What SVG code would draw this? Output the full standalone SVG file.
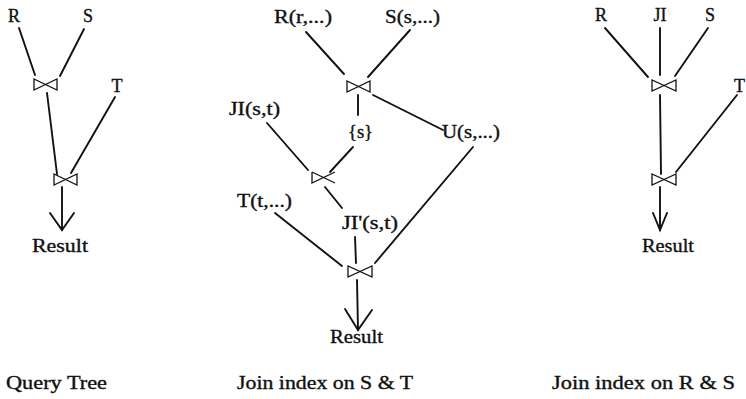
<svg xmlns="http://www.w3.org/2000/svg" width="746" height="399" viewBox="0 0 746 399">
<style>
text{font-family:"Liberation Serif","DejaVu Serif",serif;font-size:18px;fill:#111;stroke:#111;stroke-width:0.35}
.c{text-anchor:middle}
.ln{stroke:#111;stroke-width:1.9;fill:none;stroke-linecap:round}
.bt{stroke:#111;stroke-width:1.3;fill:none;stroke-linejoin:miter}
</style>
<rect width="746" height="399" fill="#fff"/>
<g id="connectors">
  <line class="ln" x1="19" y1="28" x2="35" y2="75"/>
  <line class="ln" x1="84" y1="29" x2="60" y2="76"/>
  <line class="ln" x1="47" y1="93" x2="57" y2="174"/>
  <line class="ln" x1="115" y1="97" x2="71" y2="173"/>
  <line class="ln" x1="62" y1="187" x2="62" y2="230"/>
  <polyline class="ln" points="50,213 62,230 74,213"/>
  <line class="ln" x1="306" y1="32" x2="344" y2="74"/>
  <line class="ln" x1="410" y1="30" x2="368" y2="77"/>
  <line class="ln" x1="358" y1="95" x2="358" y2="115"/>
  <line class="ln" x1="373" y1="95" x2="443" y2="130"/>
  <line class="ln" x1="353" y1="147" x2="330" y2="172"/>
  <line class="ln" x1="267" y1="123" x2="308" y2="170"/>
  <line class="ln" x1="325" y1="187" x2="342" y2="208"/>
  <line class="ln" x1="275" y1="213" x2="342" y2="266"/>
  <line class="ln" x1="355" y1="237" x2="356" y2="263"/>
  <line class="ln" x1="473" y1="147" x2="375" y2="263"/>
  <line class="ln" x1="357" y1="280" x2="358" y2="330"/>
  <polyline class="ln" points="345,309 358,330 372,310"/>
  <line class="ln" x1="605" y1="28" x2="648" y2="77"/>
  <line class="ln" x1="660" y1="28" x2="660" y2="75"/>
  <line class="ln" x1="708" y1="28" x2="675" y2="76"/>
  <line class="ln" x1="660" y1="95" x2="661" y2="174"/>
  <line class="ln" x1="737" y1="95" x2="676" y2="172"/>
  <line class="ln" x1="660" y1="187" x2="660" y2="230"/>
  <polyline class="ln" points="653,213 660,230 667,213"/>
</g>
<g id="left-tree">
  <g id="L-R"><text class="c" x="14" y="22">R</text></g>
  <g id="L-S"><text class="c" x="88" y="22">S</text></g>
  <g id="L-T"><text class="c" x="117" y="92">T</text></g>
  <g id="L-join1"><path class="bt" d="M34,79 L34,90 L57,79 L57,90 Z"/></g>
  <g id="L-join2"><path class="bt" d="M54,174 L54,185 L77,174 L77,185 Z"/></g>
  <g id="L-result"><text x="32" y="252" textLength="56" lengthAdjust="spacingAndGlyphs">Result</text></g>
</g>
<g id="middle-tree">
  <g id="M-R"><text x="274" y="23" textLength="58" lengthAdjust="spacingAndGlyphs">R(r,...)</text></g>
  <g id="M-S"><text x="385" y="23" textLength="55" lengthAdjust="spacingAndGlyphs">S(s,...)</text></g>
  <g id="M-join1"><path class="bt" d="M347,81 L347,92 L370,81 L370,92 Z"/></g>
  <g id="M-JI"><text x="229" y="115" textLength="51" lengthAdjust="spacingAndGlyphs">JI(s,t)</text></g>
  <g id="M-s"><text x="348" y="138" textLength="25" lengthAdjust="spacingAndGlyphs">{s}</text></g>
  <g id="M-U"><text x="442" y="138" textLength="58" lengthAdjust="spacingAndGlyphs">U(s,...)</text></g>
  <g id="M-semijoin"><path class="bt" d="M312,172 L312,183 L335,172 M312,172 L335,183"/></g>
  <g id="M-T"><text x="237" y="207" textLength="55" lengthAdjust="spacingAndGlyphs">T(t,...)</text></g>
  <g id="M-JI2"><text x="342" y="229" textLength="56" lengthAdjust="spacingAndGlyphs">JI'(s,t)</text></g>
  <g id="M-join2"><path class="bt" d="M348,266 L348,277 L372,266 L372,277 Z"/></g>
  <g id="M-result"><text x="330" y="343" textLength="53" lengthAdjust="spacingAndGlyphs">Result</text></g>
</g>
<g id="right-tree">
  <g id="R-R"><text class="c" x="601" y="21">R</text></g>
  <g id="R-JI"><text class="c" x="660" y="21">JI</text></g>
  <g id="R-S"><text class="c" x="710" y="21">S</text></g>
  <g id="R-T"><text x="734" y="92">T</text></g>
  <g id="R-join1"><path class="bt" d="M652,80 L652,91 L676,80 L676,91 Z"/></g>
  <g id="R-join2"><path class="bt" d="M652,174 L652,185 L676,174 L676,185 Z"/></g>
  <g id="R-result"><text x="642" y="252" textLength="52" lengthAdjust="spacingAndGlyphs">Result</text></g>
</g>
<g id="captions">
  <text x="6" y="389" textLength="101" lengthAdjust="spacingAndGlyphs">Query Tree</text>
  <text x="237" y="389" textLength="176" lengthAdjust="spacingAndGlyphs">Join index on S &amp; T</text>
  <text x="552" y="389" textLength="183" lengthAdjust="spacingAndGlyphs">Join index on R &amp; S</text>
</g>
</svg>
